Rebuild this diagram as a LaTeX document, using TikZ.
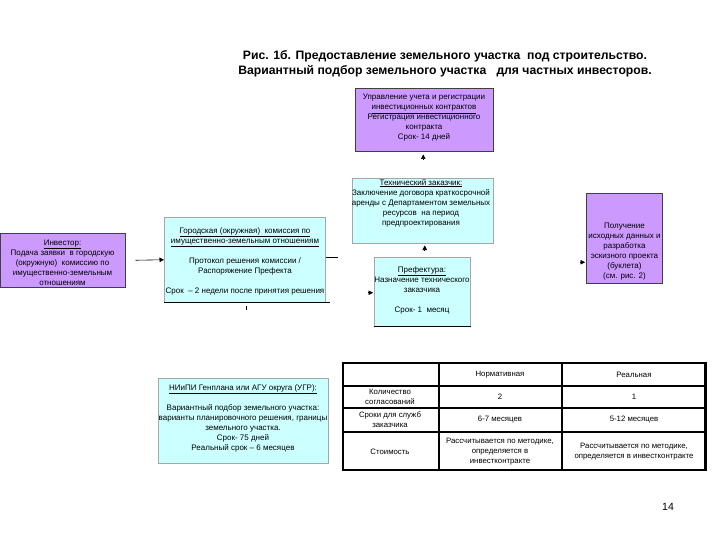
\documentclass[tikz,border=0pt]{standalone}
\usepackage{fontspec}
\setmainfont{Liberation Sans}
\usetikzlibrary{arrows.meta}
\definecolor{lav}{HTML}{CC99FF}
\definecolor{cy}{HTML}{CCFFFF}
\begin{document}
\begin{tikzpicture}[x=1pt,y=-1pt,
  pbox/.style={draw=black!75, line width=0.5pt, fill=lav, inner sep=0pt, anchor=north west},
  cbox/.style={draw=black!35, line width=0.5pt, fill=cy, inner sep=0pt, anchor=north west},
  txt/.style={font=\fontsize{8}{10}\selectfont, align=center, inner sep=0pt},
  ttl/.style={font=\fontsize{12.2}{15}\selectfont\bfseries, align=center, inner sep=0pt},
  arr/.style={-{Triangle[length=4.5pt,width=4.5pt]}, line width=0.6pt},
  stub/.style={line width=0.6pt},
  tline/.style={line width=1.2pt},
  tthick/.style={line width=2.4pt},
  ttxt/.style={font=\fontsize{7.8}{10}\selectfont, align=center, inner sep=0pt},
]
\fill[white] (0,0) rectangle (720,540);
\useasboundingbox (0,0) rectangle (720,540);

% title
\node[ttl] (title) at (445,64) {Рис. 1б. Предоставление земельного участка\ \ под строительство.\\Вариантный подбор земельного участка\ \ \ для частных инвесторов.};

% boxes
\node[pbox, minimum width=138pt, minimum height=63pt] (reg) at (355,88) {};
\node[txt] (regt) at (424,118) {Управление учета и регистрации\\\underline{инвестиционных контрактов}\\Регистрация инвестиционного\\контракта\\Срок- 14 дней};

\node[cbox, minimum width=141pt, minimum height=65pt] (tc) at (352,178) {};
\node[txt] (tct) at (421,203) {\underline{Технический заказчик:}\\Заключение договора краткосрочной\\аренды с Департаментом земельных\\ресурсов\ \ на период\\предпроектирования};

\node[pbox, minimum width=125pt, minimum height=54pt] (inv) at (0,233) {};
\node[txt] (invt) at (62.5,262.5) {\underline{Инвестор:}\\Подача заявки\ \ в городскую\\(окружную)\ \ комиссию по\\имущественно-земельным\\отношениям};

\node[cbox, minimum width=161pt, minimum height=85pt] (com) at (164,217) {};
\node[txt] (comt) at (245,261) {\underline{Городская (окружная)\ \ комиссия по}\\\underline{имущественно-земельным отношениям}\\[10pt]Протокол решения комиссии /\\Распоряжение Префекта\\[10pt]Срок\ \ – 2 недели после принятия решения};

\node[cbox, minimum width=96pt, minimum height=69pt] (pref) at (374,257) {};
\node[txt] (preft) at (422,290) {\underline{Префектура:}\\Назначение технического\\заказчика\\[10pt]Срок- 1\ \ месяц};

\node[pbox, minimum width=76pt, minimum height=90pt] (res) at (586,193) {};
\node[txt] (rest) at (624.5,252) {Получение\\исходных данных и\\разработка\\эскизного проекта\\(буклета)\\(см. рис. 2)};

\node[cbox, minimum width=170pt, minimum height=85pt] (nii) at (158,378) {};
\node[txt] (niit) at (243,418.5) {\underline{НИиПИ Генплана или АГУ округа (УГР):}\\[10pt]Вариантный подбор земельного участка:\\варианты планировочного решения, границы\\земельного участка.\\Срок- 75 дней\\Реальный срок – 6 месяцев};

% black bottom edges
\draw[stub] (com.south west) -- ([xshift=4pt]com.south east);
\draw[stub] (pref.south west) -- (pref.south east);

% connectors
\draw[arr] ([xshift=10pt]inv.east) -- (com.west);
\coordinate (comr) at ([xshift=12pt,yshift=2pt]com.east);
\draw[stub] ([yshift=2pt]com.east) -- (comr);
\coordinate (prefl) at ([xshift=-6.5pt,yshift=-1pt]pref.west);
\draw[arr] (prefl) -- ([xshift=-1pt,yshift=-1pt]pref.west);
\coordinate (tcb) at ([xshift=2pt,yshift=-7.5pt]tc.south);
\draw[arr] (tcb) -- ([xshift=2pt,yshift=-2pt]tc.south);
\coordinate (regb) at ([xshift=-1pt,yshift=-8.5pt]reg.south);
\draw[arr] (regb) -- ([xshift=-1pt,yshift=-3pt]reg.south);
\coordinate (resl) at ([xshift=-6.5pt,yshift=-24pt]res.west);
\draw[arr] (resl) -- ([xshift=-1pt,yshift=-24pt]res.west);
\coordinate (comb) at ([xshift=1.5pt,yshift=-3pt]com.south);
\draw[stub] (comb) -- ([yshift=-4pt]comb);

% table
\draw[tline] (343,363) rectangle (706,470);
\draw[tline] (343,386) -- (706,386);
\draw[tline] (343,408) -- (706,408);
\draw[tline] (343,432) -- (706,432);
\draw[tthick] (439,363) -- (439,470);
\draw[tthick] (562,363) -- (562,470);
\draw[tthick] (705,363) -- (705,470);
\draw[tthick] (562,386) -- (706,386);
\draw[tthick] (562,408) -- (706,408);
\draw[tthick] (562,432) -- (706,432);

\node[ttxt] (h2) at (500,375) {Нормативная};
\node[ttxt] (h3) at (634,375) {Реальная};
\node[ttxt] (r1a) at (390,397) {Количество\\согласований};
\node[ttxt] (r1b) at (500,397) {2};
\node[ttxt] (r1c) at (634,397) {1};
\node[ttxt] (r2a) at (390,420) {Сроки для служб\\заказчика};
\node[ttxt] (r2b) at (500,420) {6-7 месяцев};
\node[ttxt] (r2c) at (634,420) {5-12 месяцев};
\node[ttxt] (r3a) at (390,452) {Стоимость};
\node[ttxt] (r3b) at (500,452) {Рассчитывается по методике,\\определяется в\\инвестконтракте};
\node[ttxt] (r3c) at (634,452) {Рассчитывается по методике,\\определяется в инвестконтракте};

% page number
\node[font=\fontsize{10.5}{12}\selectfont, inner sep=0pt] (pg) at (668,507) {14};
\end{tikzpicture}
\end{document}
